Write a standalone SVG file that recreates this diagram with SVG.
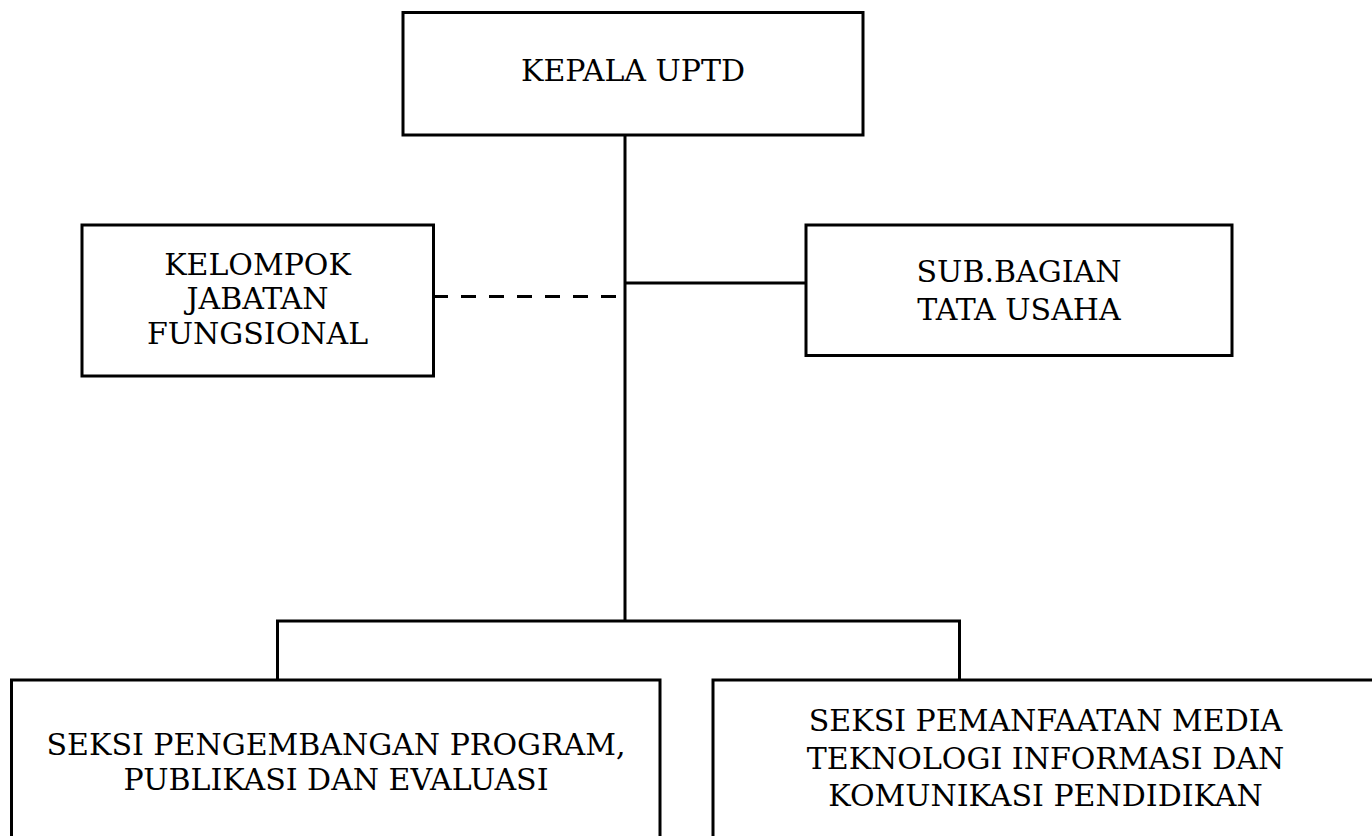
<svg xmlns="http://www.w3.org/2000/svg" width="1372" height="836" viewBox="0 0 1372 836">
<style>
.box{fill:#fff;stroke:#000;stroke-width:3}
.ln{fill:none;stroke:#000;stroke-width:3}
.dash{stroke-dasharray:15 13}
text{font-family:"DejaVu Serif","Liberation Serif",serif;font-size:30px;fill:#000;text-anchor:middle}
</style>
<rect width="1372" height="836" fill="#fff"/>
<g id="connectors">
<path class="ln" d="M625 135V621M625 283H806M277.5 621H959.5M277.5 619.5V680M959.5 619.5V680"/>
<path class="ln dash" d="M433 296.5H618"/>
</g>
<g id="kepala">
<rect class="box" x="403" y="12.5" width="460" height="122.5"/>
<text x="633" y="81">KEPALA UPTD</text>
</g>
<g id="kelompok">
<rect class="box" x="82" y="225" width="351.5" height="151"/>
<text x="257.5" y="274.5">KELOMPOK</text>
<text x="257.5" y="309">JABATAN</text>
<text x="257.5" y="343.5">FUNGSIONAL</text>
</g>
<g id="subbagian">
<rect class="box" x="806" y="225" width="426" height="130.5"/>
<text x="1019" y="282">SUB.BAGIAN</text>
<text x="1019" y="320">TATA USAHA</text>
</g>
<g id="seksi1">
<rect class="box" x="11.5" y="680" width="648.5" height="180"/>
<text x="336" y="755">SEKSI PENGEMBANGAN PROGRAM,</text>
<text x="336" y="790">PUBLIKASI DAN EVALUASI</text>
</g>
<g id="seksi2">
<rect class="box" x="713" y="680" width="700" height="180"/>
<text x="1045.5" y="731">SEKSI PEMANFAATAN MEDIA</text>
<text x="1045.5" y="768.5">TEKNOLOGI INFORMASI DAN</text>
<text x="1045.5" y="806">KOMUNIKASI PENDIDIKAN</text>
</g>
</svg>
